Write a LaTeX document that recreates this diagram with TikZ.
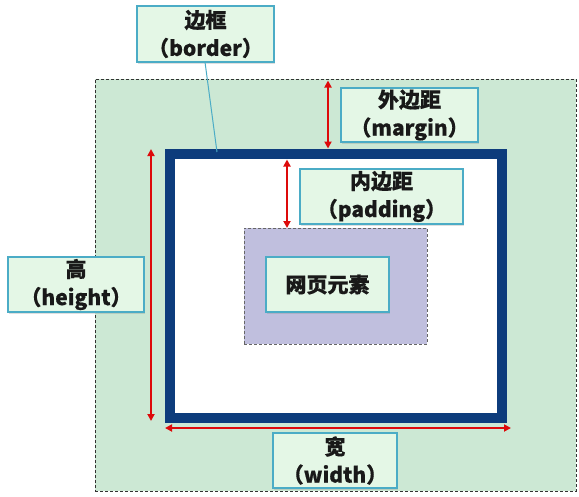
\documentclass[tikz,border=0pt]{standalone}
\usepackage{fontspec}
\setmainfont{Noto Sans CJK SC}[BoldFeatures={FakeBold=0.5}]
\usetikzlibrary{arrows.meta,shadows}
\definecolor{labelfill}{HTML}{E4F7E6}
\definecolor{labeledge}{HTML}{4BACC6}
\definecolor{marginfill}{HTML}{CCE8D4}
\definecolor{bordercol}{HTML}{0D3C7C}
\definecolor{elemfill}{HTML}{C0BFDE}
\definecolor{arrowred}{HTML}{DD0A0A}
\tikzset{
  lbl/.style={draw=labeledge, line width=1.3pt, fill=labelfill, align=center,
    inner sep=0pt, font=\bfseries\fontsize{21}{28}\selectfont, text=black!90,
    drop shadow={shadow xshift=1pt, shadow yshift=-1.5pt, opacity=0.25}},
  dimarrow/.style={draw=arrowred, line width=2.4pt, {Triangle[length=7pt,width=7pt]}-{Triangle[length=7pt,width=7pt]}},
  leader/.style={draw=labeledge, line width=1pt}
}
\begin{document}
\begin{tikzpicture}[x=1pt,y=-1pt]
\useasboundingbox (0,0) rectangle (579,496);
% margin area
\node[draw=black!80, dash pattern=on 3pt off 2pt, line width=0.8pt, fill=marginfill,
  minimum width=481pt, minimum height=412pt, inner sep=0pt] (outer) at (335.5,285) {};
% border
\node[draw=bordercol, line width=10pt, fill=white,
  minimum width=332pt, minimum height=263.5pt, inner sep=0pt] (box) at (336,285.75) {};
% content
\node[draw=black!60, dash pattern=on 3pt off 2pt, line width=0.8pt, fill=elemfill,
  minimum width=183pt, minimum height=116pt, inner sep=0pt] (content) at (335.5,286) {};
% labels
\node[lbl, minimum width=137pt, minimum height=56pt] (lborder) at (205.5,34) {边框\\（border）};
\node[lbl, minimum width=137pt, minimum height=54pt] (lmargin) at (409.5,115) {外边距\\（margin）};
\node[lbl, minimum width=163pt, minimum height=55pt] (lpadding) at (381.5,196.5) {内边距\\（padding）};
\node[lbl, minimum width=123pt, minimum height=55pt] (lelem) at (327.5,284.5) {网页元素};
\node[lbl, minimum width=136pt, minimum height=55pt] (lheight) at (76,284.5) {高\\（height）};
\node[lbl, minimum width=124pt, minimum height=55pt] (lwidth) at (335,460.5) {宽\\（width）};
% connector points
\coordinate (bpt) at (217,152);
\coordinate (lb) at (205,62);
\coordinate (m1) at (328,80.5);
\coordinate (m2) at (328,148.5);
\coordinate (p1) at (287,159.5);
\coordinate (p2) at (287,228);
\coordinate (h1) at (151,149);
\coordinate (h2) at (151,421);
\coordinate (w1) at (165,428);
\coordinate (w2) at (511,428);
\draw[leader] (lb) -- (bpt);
\draw[dimarrow] (m1) -- (m2);
\draw[dimarrow] (p1) -- (p2);
\draw[dimarrow] (h1) -- (h2);
\draw[dimarrow] (w1) -- (w2);
\end{tikzpicture}
\end{document}
